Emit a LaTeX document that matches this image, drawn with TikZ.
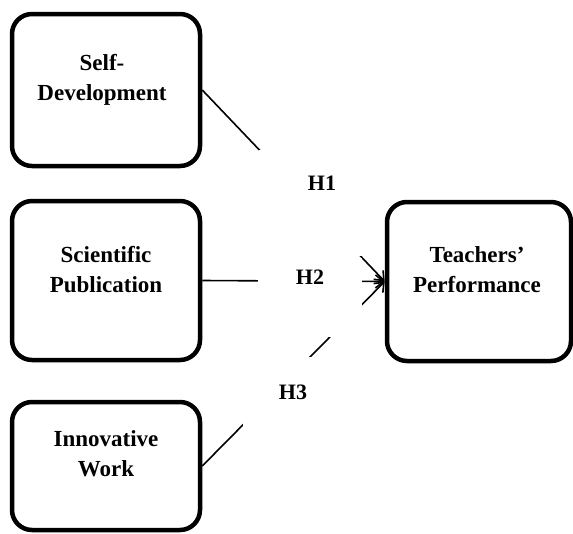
\documentclass[tikz,border=0pt]{standalone}
\usepackage{fontspec}
\setmainfont{Liberation Serif}
\usetikzlibrary{arrows.meta}

\begin{document}
\begin{tikzpicture}[x=1pt,y=-1pt,
	factor/.style={draw,line width=4.5pt,rounded corners=20pt,minimum width=188pt,inner sep=0pt},
	factxt/.style={align=center,font=\fontsize{23}{30}\selectfont\bfseries,inner sep=0pt},
	link/.style={line width=1.6pt,-{Straight Barb[length=8pt,width=13pt,line width=1.6pt]}},
	hide/.style={fill=white,inner sep=0pt},
	hyp/.style={font=\fontsize{22}{26}\selectfont\bfseries,inner sep=0pt}]
	\useasboundingbox (0,0) rectangle (573,533);
	% factors
	\node [factor,minimum height=152pt] (sd) at (106,90) {};
	\node [factor,minimum height=159pt] (sp) at (106,280.5) {};
	\node [factor,minimum height=128pt] (iw) at (106,466) {};
	\node [factor,minimum width=184pt,minimum height=159pt] (tp) at (479,281.5) {};
	\node [factxt] (sdtext) at (102,79.5) {Self-\\Development};
	\node [factxt] (sptext) at (106,270) {Scientific\\Publication};
	\node [factxt] (iwtext) at (106,454) {Innovative\\Work};
	\node [factxt] (tptext) at (477,270) {Teachers'\\Performance};
	% hypotheses
	\draw [link] (sd.east) -- (tp.west);
	\draw [link] (sp.east) -- (tp.west);
	\draw [link] (iw.east) -- (tp.west);
	\node [hide,minimum width=104pt,minimum height=106pt] (hbox1) at (311,203) {};
	\node [hide,minimum width=104pt,minimum height=79pt] (hbox2) at (310,297.5) {};
	\node [hide,minimum width=100pt,minimum height=83pt] (hbox3) at (293,398.5) {};
	\node [hyp] (h1) at (322,183) {H1};
	\node [hyp] (h2) at (310,277) {H2};
	\node [hyp] (h3) at (293,392) {H3};
\end{tikzpicture}
\end{document}
